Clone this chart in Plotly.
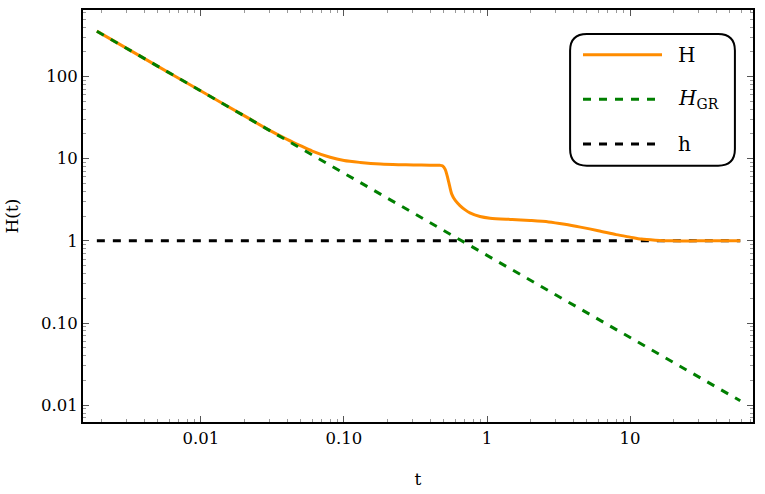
import plotly.graph_objects as go

# ---- data ----
t_H = [0.00187, 0.005, 0.01, 0.02, 0.03, 0.04, 0.05, 0.06, 0.08, 0.10, 0.13, 0.18, 0.24,
       0.306, 0.40, 0.469, 0.49, 0.51, 0.525, 0.54, 0.567, 0.60, 0.647, 0.70, 0.76, 0.893,
       1.05, 1.5, 2.0, 2.7, 3.5, 4.5, 6.0, 8.0, 10.0, 12.0, 15.0, 20.0, 30.0, 59.0]
H_vals = [357, 133, 66.7, 33.4, 22.3, 17.2, 14.3, 12.4, 10.4, 9.5, 9.0, 8.6, 8.45,
          8.4, 8.33, 8.3, 8.15, 7.4, 6.3, 5.2, 3.7, 3.1, 2.69, 2.4, 2.19, 1.98,
          1.89, 1.82, 1.77, 1.70, 1.59, 1.47, 1.33, 1.19, 1.11, 1.05, 1.02, 1.0, 1.0, 1.0]

t_GR = [0.00187, 0.01, 0.1, 1.0, 10.0, 59.0]
H_GR_vals = [356, 66.7, 6.67, 0.667, 0.0667, 0.0113]

t_h = [0.00187, 59.0]
h_vals = [1.0, 1.0]

x_tickvals = [0.01, 0.1, 1, 10]
x_ticktext = ["0.01", "0.10", "1", "10"]
y_tickvals = [0.01, 0.1, 1, 10, 100]
y_ticktext = ["0.01", "0.10", "1", "10", "100"]

legend_labels = ["H", "<i>H</i><sub>GR</sub>", "h"]

ORANGE = "#FF8C00"
GREEN = "#007F00"
BLACK = "#000000"
FONT = "DejaVu Serif"

fig = go.Figure()
fig.add_trace(go.Scatter(x=t_h, y=h_vals, mode="lines",
                         line=dict(color=BLACK, width=3, dash="8px,8px"), showlegend=False))
fig.add_trace(go.Scatter(x=t_H, y=H_vals, mode="lines", line_shape="spline",
                         line=dict(color=ORANGE, width=3, smoothing=0.8), showlegend=False))
fig.add_trace(go.Scatter(x=t_GR, y=H_GR_vals, mode="lines",
                         line=dict(color=GREEN, width=3, dash="8px,8px"), showlegend=False))

axis_common = dict(
    type="log", showline=True, linecolor="black", linewidth=2, mirror="allticks",
    ticks="inside", ticklen=6, tickwidth=1, tickcolor="#555",
    showgrid=False, zeroline=False,
    tickfont=dict(family=FONT, size=16.5, color="black"),
    minor=dict(ticks="inside", ticklen=3, tickwidth=1, tickcolor="#999", dtick="D1", showgrid=False),
)

fig.update_xaxes(**axis_common, range=[-2.825, 1.86], tickvals=x_tickvals, ticktext=x_ticktext,
                 title=dict(text="t", font=dict(family=FONT, size=17, color="black"), standoff=26))
fig.update_yaxes(**axis_common, range=[-2.205, 2.81], tickvals=y_tickvals, ticktext=y_ticktext,
                 title=dict(text="H(t)", font=dict(family=FONT, size=17, color="black"), standoff=18))

# manual legend (rounded box)
x0, x1, y0, y1, r = 0.727, 0.973, 0.622, 0.942, 0.025
ry = r * 670 / 415
path = (f"M {x0 + r},{y1} L {x1 - r},{y1} Q {x1},{y1} {x1},{y1 - ry} "
        f"L {x1},{y0 + ry} Q {x1},{y0} {x1 - r},{y0} L {x0 + r},{y0} "
        f"Q {x0},{y0} {x0},{y0 + ry} L {x0},{y1 - ry} Q {x0},{y1} {x0 + r},{y1} Z")
shapes = [dict(type="path", xref="paper", yref="paper", path=path,
               line=dict(color="black", width=2), fillcolor="white", layer="above")]
annotations = []
item_styles = [dict(color=ORANGE, dash="solid"), dict(color=GREEN, dash="8px,8px"),
               dict(color=BLACK, dash="8px,8px")]
row_px = [53, 98, 143]
for lab, st, ypx in zip(legend_labels, item_styles, row_px):
    yp = 1 - (ypx - 8) / 415
    shapes.append(dict(type="line", xref="paper", yref="paper",
                       x0=(583 - 83) / 670, x1=(662 - 83) / 670, y0=yp, y1=yp,
                       line=dict(color=st["color"], width=3, dash=st["dash"]), layer="above"))
    annotations.append(dict(xref="paper", yref="paper", x=(676 - 83) / 670, y=yp,
                            xanchor="left", yanchor="middle", text=lab, showarrow=False,
                            font=dict(family=FONT, size=20, color="black")))

fig.update_layout(
    width=765, height=494,
    margin=dict(l=83, r=12, t=8, b=71),
    paper_bgcolor="white", plot_bgcolor="white",
    shapes=shapes, annotations=annotations, showlegend=False,
)

fig.write_html("out.html")
